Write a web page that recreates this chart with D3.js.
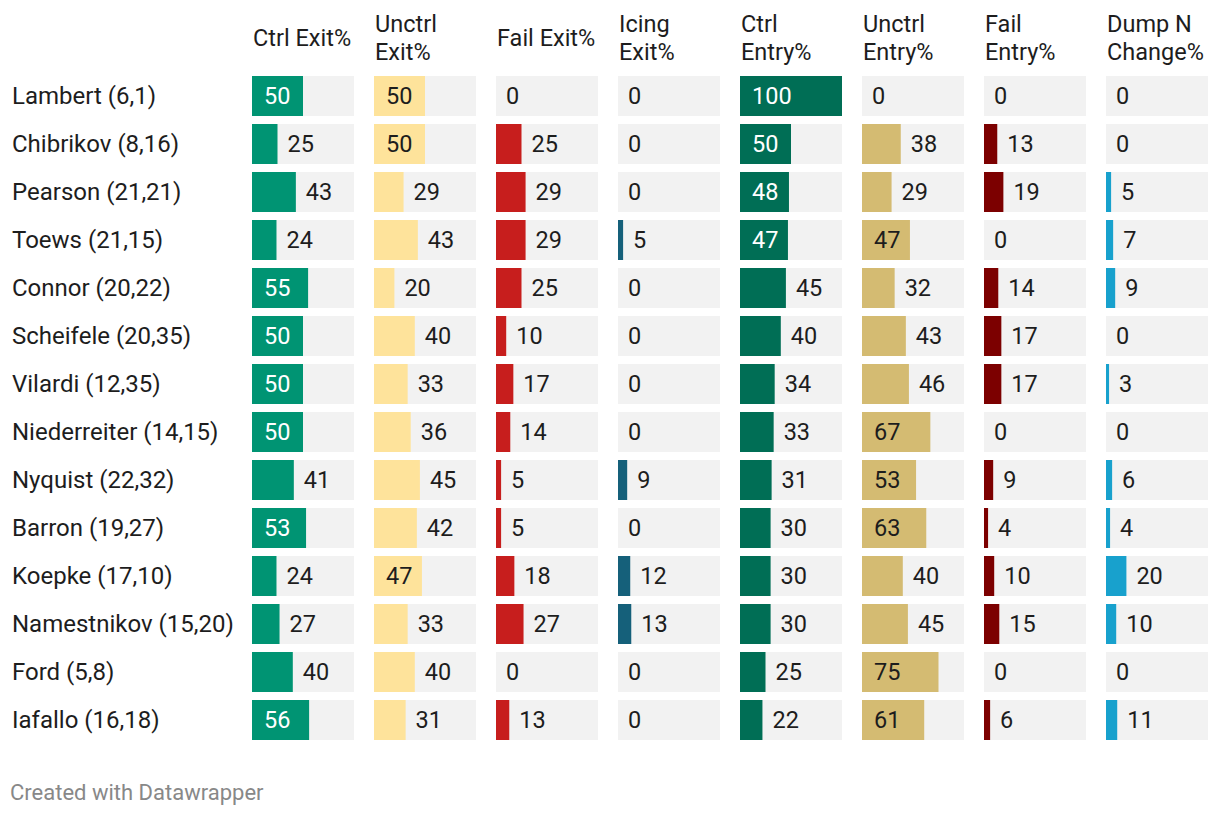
<!DOCTYPE html>
<head>
<meta charset="utf-8">
<title>exits and entries</title>
<style>
html, body { margin:0; padding:0; background:#fff; overflow:hidden; }
svg { display:block; font-family: Roboto, sans-serif; }
</style>
</head>
<body>
<svg id="stage" width="1220" height="816"></svg>
<script src="https://cdn.jsdelivr.net/npm/d3@7"></script>
<script>

var players = ["Lambert (6,1)", "Chibrikov (8,16)", "Pearson (21,21)", "Toews (21,15)", "Connor (20,22)",
  "Scheifele (20,35)", "Vilardi (12,35)", "Niederreiter (14,15)", "Nyquist (22,32)", "Barron (19,27)",
  "Koepke (17,10)", "Namestnikov (15,20)", "Ford (5,8)", "Iafallo (16,18)"];

var headers = [["Ctrl Exit%"], ["Unctrl", "Exit%"], ["Fail Exit%"], ["Icing", "Exit%"],
  ["Ctrl", "Entry%"], ["Unctrl", "Entry%"], ["Fail", "Entry%"], ["Dump N", "Change%"]];

var ctrlExit    = [50, 25, 43, 24, 55, 50, 50, 50, 41, 53, 24, 27, 40, 56];
var unctrlExit  = [50, 50, 29, 43, 20, 40, 33, 36, 45, 42, 47, 33, 40, 31];
var failExit    = [0, 25, 29, 29, 25, 10, 17, 14, 5, 5, 18, 27, 0, 13];
var icingExit   = [0, 0, 0, 5, 0, 0, 0, 0, 9, 0, 12, 13, 0, 0];
var ctrlEntry   = [100, 50, 48, 47, 45, 40, 34, 33, 31, 30, 30, 30, 25, 22];
var unctrlEntry = [0, 38, 29, 47, 32, 43, 46, 67, 53, 63, 40, 45, 75, 61];
var failEntry   = [0, 13, 19, 0, 14, 17, 17, 0, 9, 4, 10, 15, 0, 6];
var dumpChange  = [0, 0, 5, 7, 9, 0, 3, 0, 6, 4, 20, 10, 0, 11];

var series = [ctrlExit, unctrlExit, failExit, icingExit, ctrlEntry, unctrlEntry, failEntry, dumpChange];

// fill colour, and whether the label inside the bar stays dark
var colors = ["#009473", "#fee39b", "#c71e1d", "#15607a", "#006e55", "#d4bb72", "#7c0000", "#18a1cd"];
var lightBar = [false, true, false, false, false, true, false, false];

var svg = d3.select("#stage");

// 8 columns of 102px with 20px gaps, 14 rows of 40px with 8px gaps
var colX = d3.scaleBand().domain(d3.range(8)).range([252, 1208]).paddingInner(20 / 122).paddingOuter(0);
var rowY = d3.scaleBand().domain(d3.range(players.length)).range([76, 740]).paddingInner(8 / 48).paddingOuter(0);
var x = d3.scaleLinear().domain([0, 100]).range([0, colX.bandwidth()]);

// headers
headers.forEach(function(h, c) {
  var t = svg.append("text")
    .attr("fill", "#1d1d1d")
    .style("font-size", "23.5px");
  var top = h.length == 1 ? 46 : 32;
  h.forEach(function(line, i) {
    t.append("tspan").attr("x", colX(c) + 1).attr("y", top + i * 28).text(line);
  });
});

// row labels
svg.selectAll("text.name")
  .data(players)
  .enter().append("text")
    .attr("class", "name")
    .attr("x", 12)
    .attr("y", function(d, i) { return rowY(i) + rowY.bandwidth() / 2; })
    .attr("dy", "0.35em")
    .attr("fill", "#1d1d1d")
    .style("font-size", "24px")
    .text(function(d) { return d; });

series.forEach(function(vals, c) {
  var g = svg.append("g").attr("transform", "translate(" + colX(c) + ",0)");

  g.selectAll("rect.bg").data(vals).enter().append("rect")
    .attr("class", "bg")
    .attr("x", 0)
    .attr("y", function(d, i) { return rowY(i); })
    .attr("width", colX.bandwidth())
    .attr("height", rowY.bandwidth())
    .attr("fill", "#f2f2f2");

  g.selectAll("rect.bar").data(vals).enter().append("rect")
    .attr("class", "bar")
    .attr("x", 0)
    .attr("y", function(d, i) { return rowY(i); })
    .attr("width", function(d) { return x(d); })
    .attr("height", rowY.bandwidth())
    .attr("fill", colors[c]);

  g.selectAll("text.val").data(vals).enter().append("text")
    .attr("class", "val")
    .attr("x", function(d) { return x(d) >= 47.5 ? 12 : x(d) + 10; })
    .attr("y", function(d, i) { return rowY(i) + rowY.bandwidth() / 2; })
    .attr("dy", "0.35em")
    .attr("fill", function(d) { return (x(d) >= 47.5 && !lightBar[c]) ? "#fff" : "#1d1d1d"; })
    .style("font-size", "23.5px")
    .text(function(d) { return d; });
});

svg.append("text")
  .attr("x", 10)
  .attr("y", 800)
  .attr("fill", "#888")
  .style("font-size", "22px")
  .text("Created with Datawrapper");

</script>
</body>
</html>
